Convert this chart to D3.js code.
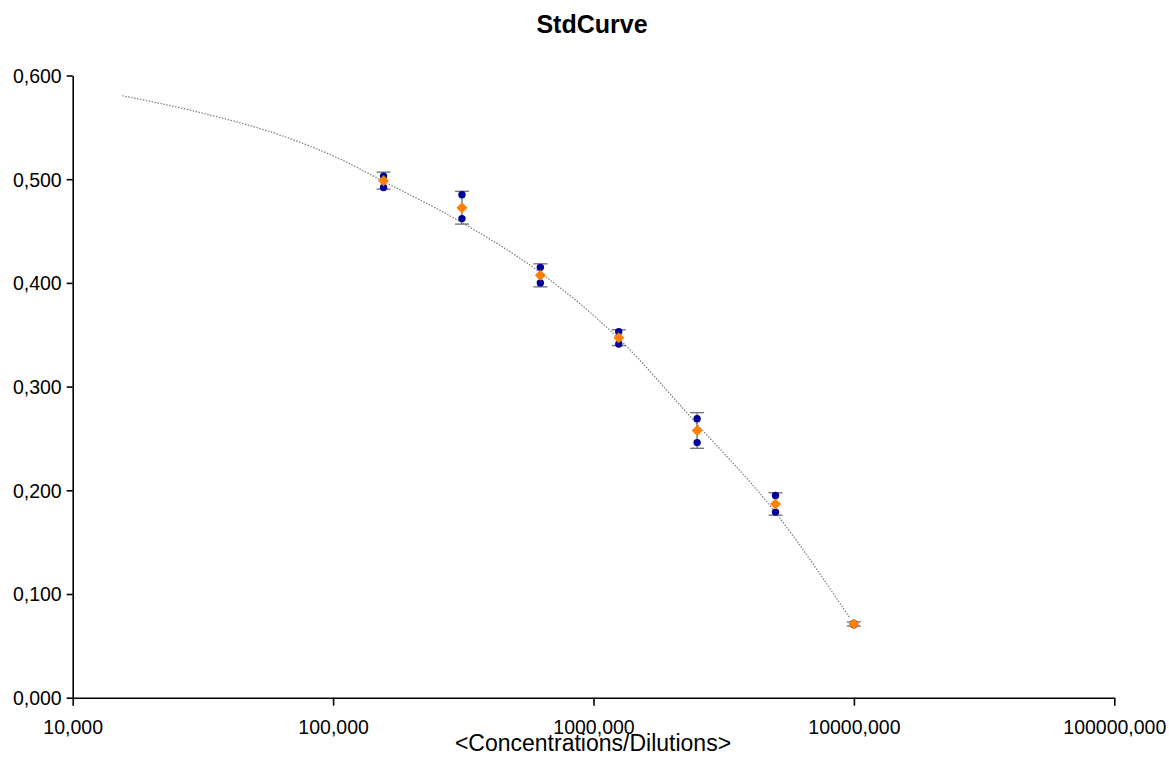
<!DOCTYPE html>
<html>
<head>
<meta charset="utf-8">
<script src="https://cdn.jsdelivr.net/npm/d3@7"></script>
<style>
  html, body { margin: 0; padding: 0; background: #fff; }
  svg { display: block; font-family: Arial, "Liberation Sans", sans-serif; }
</style>
</head>
<body>
<svg id="chart" width="1169" height="778"></svg>
<script>
// ---- data ----
const chartTitle = "StdCurve";
const xAxisTitle = "<Concentrations/Dilutions>";
const xTickValues = [10, 100, 1000, 10000, 100000];
const yTickValues = [0, 0.1, 0.2, 0.3, 0.4, 0.5, 0.6];

const concentrations = [156.25, 312.5, 625, 1250, 2500, 5000, 10000];
const replicate1 = [0.503, 0.485, 0.415, 0.353, 0.269, 0.195, 0.0715];
const replicate2 = [0.492, 0.462, 0.400, 0.341, 0.246, 0.179, 0.0703];
const meanValues = [0.4986, 0.4725, 0.4073, 0.3472, 0.2577, 0.1868, 0.0711];
const errorValues = [0.0082, 0.0158, 0.0111, 0.0076, 0.0172, 0.0108, 0.002];

// fitted curve
const fitConc = [15.5, 30.8, 62.5, 106.3, 154.1, 309.8, 620.2, 1242, 2475, 4977, 9661];
const fitValue = [0.5805, 0.5643, 0.5426, 0.5195, 0.4987, 0.4587, 0.4105, 0.3469, 0.2649, 0.1791, 0.0766];

// ---- drawing ----
const svg = d3.select("#chart");
const x = d3.scaleLog().domain([10, 100000]).range([72.7, 1114.3]);
const y = d3.scaleLinear().domain([0, 0.6]).range([697.7, 75.5]);

const fmt = v => d3.format(".3f")(v).replace(".", ",");

// title
svg.append("text")
  .attr("x", 592).attr("y", 33)
  .attr("text-anchor", "middle")
  .attr("font-weight", "bold")
  .attr("font-size", 25)
  .text(chartTitle);

// x-axis title
svg.append("text")
  .attr("x", 593).attr("y", 751)
  .attr("text-anchor", "middle")
  .attr("font-size", 23)
  .text(xAxisTitle);

// axes
const xAxis = d3.axisBottom(x).tickValues(xTickValues).tickFormat(fmt).tickSize(8).tickSizeOuter(0);
const yAxis = d3.axisLeft(y).tickValues(yTickValues).tickFormat(fmt).tickSize(6).tickSizeOuter(0);

const gx = svg.append("g").attr("transform", `translate(0,${y(0)})`).call(xAxis);
const gy = svg.append("g").attr("transform", `translate(${x(10)},0)`).call(yAxis);

[gx, gy].forEach(g => {
  g.select(".domain").attr("stroke", "#000").attr("stroke-width", 1.6);
  g.selectAll(".tick line").attr("stroke", "#000").attr("stroke-width", 1.6);
  g.selectAll(".tick text").attr("fill", "#000").attr("font-size", 19.5)
    .attr("font-family", "Arial, 'Liberation Sans', sans-serif");
});
gx.selectAll(".tick text").attr("dy", 0).attr("y", 36);
gy.selectAll(".tick text").attr("x", -11).attr("dy", "0.35em");

// fitted curve
const fitData = fitConc.map((c, i) => [c, fitValue[i]]);
svg.append("path")
  .datum(fitData)
  .attr("fill", "none")
  .attr("stroke", "#7a7a7a")
  .attr("stroke-width", 1.2)
  .attr("stroke-dasharray", "1.5,1.5")
  .attr("d", d3.line().x(d => x(d[0])).y(d => y(d[1])).curve(d3.curveMonotoneX));

// error bars
const eb = svg.append("g").attr("stroke", "#777").attr("stroke-width", 1.4);
concentrations.forEach((c, i) => {
  const cx = x(c), top = y(meanValues[i] + errorValues[i]), bot = y(meanValues[i] - errorValues[i]);
  eb.append("line").attr("x1", cx).attr("x2", cx).attr("y1", top).attr("y2", bot);
  eb.append("line").attr("x1", cx - 7).attr("x2", cx + 7).attr("y1", top).attr("y2", top);
  eb.append("line").attr("x1", cx - 7).attr("x2", cx + 7).attr("y1", bot).attr("y2", bot);
});

// replicate points
const reps = [];
concentrations.forEach((c, i) => { reps.push([c, replicate1[i]]); reps.push([c, replicate2[i]]); });
svg.append("g").selectAll("circle").data(reps).join("circle")
  .attr("cx", d => x(d[0])).attr("cy", d => y(d[1])).attr("r", 3.7)
  .attr("fill", "#000099");

// means (orange diamonds)
svg.append("g").selectAll("path").data(concentrations.map((c, i) => [c, meanValues[i]])).join("path")
  .attr("transform", d => `translate(${x(d[0])},${y(d[1])})`)
  .attr("d", "M0,-5.5L5.5,0L0,5.5L-5.5,0Z")
  .attr("fill", "#FF8000");
</script>
</body>
</html>
